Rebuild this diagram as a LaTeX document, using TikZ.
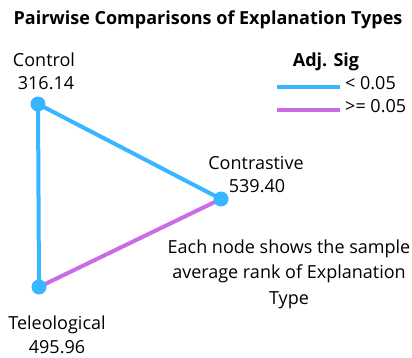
\documentclass[tikz,border=0pt]{standalone}
\usepackage{fontspec}
\setmainfont{Open Sans}
\definecolor{sigblue}{RGB}{56,182,255}
\definecolor{sigpurple}{RGB}{203,108,230}
\begin{document}
\begin{tikzpicture}[x=1pt,y=-1pt,
  dot/.style={circle,fill=sigblue,inner sep=0pt,minimum size=15pt},
  lbl/.style={font=\fontsize{18}{21}\selectfont,inner sep=0pt,anchor=base},
  sigline/.style={line width=4pt,sigblue},
  nsline/.style={line width=4pt,sigpurple}]
\useasboundingbox (0,0) rectangle (412,358);
\node[font=\bfseries\fontsize{18}{21}\selectfont,inner sep=0pt,anchor=base] (title) at (208,25) {Pairwise Comparisons of Explanation Types};
% nodes
\coordinate (c) at (38,104);
\coordinate (k) at (221,199);
\coordinate (t) at (39,287);
\draw[sigline] (c) -- (k);
\draw[sigline] (c) -- (t);
\draw[nsline] (k) -- (t);
\node[dot] (cn) at (c) {};
\node[dot] (kn) at (k) {};
\node[dot] (tn) at (t) {};
% labels
\node[lbl] (cl1) at (44,67) {Control};
\node[lbl] (cl2) at (46,90) {316.14};
\node[lbl] (kl1) at (256,170) {Contrastive};
\node[lbl] (kl2) at (257,193) {539.40};
\node[lbl] (tl1) at (57,329) {Teleological};
\node[lbl] (tl2) at (57,353) {495.96};
% legend
\node[font=\bfseries\fontsize{18}{21}\selectfont,inner sep=0pt,anchor=base] (lt) at (326,67) {Adj. Sig};
\coordinate (b1) at (277,87); \coordinate (b2) at (340,87);
\draw[sigline] (b1) -- (b2);
\node[lbl,anchor=base west] (lb) at (345,90) {< 0.05};
\coordinate (p1) at (277,110); \coordinate (p2) at (340,110);
\draw[nsline] (p1) -- (p2);
\node[lbl,anchor=base west] (lp) at (345,113) {>= 0.05};
% note
\node[lbl] (n1) at (289,253) {Each node shows the sample};
\node[lbl] (n2) at (289,278) {average rank of Explanation};
\node[lbl] (n3) at (289,304) {Type};
\end{tikzpicture}
\end{document}
